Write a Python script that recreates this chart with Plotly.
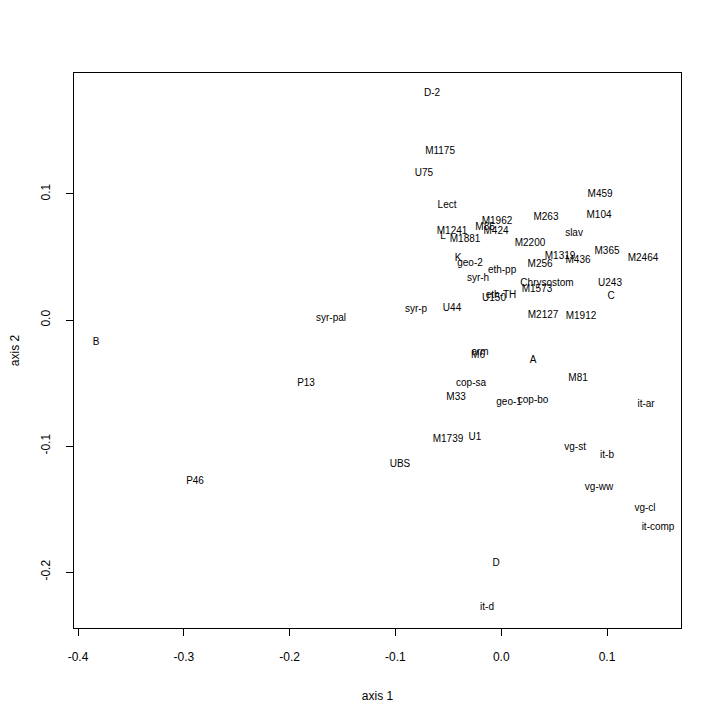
import plotly.graph_objects as go

labels = ["D-2", "M1175", "U75", "Lect", "M1962", "M85", "M424", "M1241", "L", "M1881",
          "M263", "M459", "M104", "slav", "M2200", "M1319", "M436", "M365", "M2464", "K",
          "geo-2", "M256", "eth-pp", "syr-h", "Chrysostom", "M1573", "U243", "C", "eth-TH", "U150",
          "syr-p", "U44", "M2127", "M1912", "syr-pal", "B", "P13", "M33", "M1739", "U1",
          "UBS", "P46", "arm", "M6", "A", "cop-sa", "M81", "geo-1", "cop-bo", "it-ar",
          "vg-st", "it-b", "vg-ww", "vg-cl", "it-comp", "D", "it-d"]
axis1 = [-0.0654, -0.0578, -0.0730, -0.0512, -0.0040, -0.0153, -0.0049, -0.0465, -0.0550, -0.0342,
         0.0423, 0.0934, 0.0924, 0.0688, 0.0272, 0.0556, 0.0726, 0.1000, 0.1340, -0.0408,
         -0.0295, 0.0367, 0.0008, -0.0219, 0.0433, 0.0338, 0.1028, 0.1038, -0.0002, -0.0068,
         -0.0805, -0.0465, 0.0395, 0.0754, -0.1609, -0.3830, -0.1845, -0.0427, -0.0503, -0.0248,
         -0.0957, -0.2894, -0.0200, -0.0219, 0.0301, -0.0285, 0.0726, 0.0074, 0.0301, 0.1369,
         0.0698, 0.1000, 0.0924, 0.1359, 0.1482, -0.0049, -0.0134]
axis2 = [0.1794, 0.1341, 0.1159, 0.0905, 0.0778, 0.0738, 0.0706, 0.0706, 0.0659, 0.0635,
         0.0817, 0.0992, 0.0833, 0.0683, 0.0611, 0.0500, 0.0476, 0.0540, 0.0492, 0.0492,
         0.0452, 0.0444, 0.0389, 0.0333, 0.0286, 0.0246, 0.0286, 0.0190, 0.0198, 0.0167,
         0.0087, 0.0095, 0.0032, 0.0024, 0.0008, -0.0175, -0.0500, -0.0611, -0.0952, -0.0929,
         -0.1143, -0.1278, -0.0254, -0.0278, -0.0325, -0.0500, -0.0468, -0.0651, -0.0635, -0.0667,
         -0.1008, -0.1079, -0.1333, -0.1492, -0.1643, -0.1929, -0.2278]

x_ticks = [-0.4, -0.3, -0.2, -0.1, 0.0, 0.1]
x_ticktext = ["-0.4", "-0.3", "-0.2", "-0.1", "0.0", "0.1"]
y_ticks = [-0.2, -0.1, 0.0, 0.1]
y_ticktext = ["-0.2", "-0.1", "0.0", "0.1"]

FONT = "Liberation Sans, Arial, sans-serif"

fig = go.Figure(go.Scatter(
    x=axis1, y=axis2, text=labels, mode="text",
    textposition="middle center",
    textfont=dict(family=FONT, size=10, color="black"),
    hoverinfo="text",
))

axis_common = dict(
    showgrid=False, zeroline=False, showline=True, linecolor="black", linewidth=1,
    mirror=True, ticks="outside", ticklen=7, tickcolor="black", tickwidth=1,
    tickfont=dict(family=FONT, size=12, color="black"),
)

fig.update_layout(
    width=720, height=720,
    margin=dict(l=66, r=47, t=65, b=100),
    plot_bgcolor="white", paper_bgcolor="white",
    showlegend=False,
    font=dict(family=FONT, color="black"),
    xaxis=dict(range=[-0.4038, 0.1699], tickvals=x_ticks, ticktext=x_ticktext,
               title=dict(text="axis 1", font=dict(family=FONT, size=12), standoff=28),
               automargin=False, ticklabelstandoff=11, **axis_common),
    yaxis=dict(range=[-0.2444, 0.196], tickvals=y_ticks, ticktext=y_ticktext, tickangle=-90,
               title=dict(text="axis 2", font=dict(family=FONT, size=12), standoff=20),
               automargin=False, ticklabelstandoff=11, **axis_common),
)

fig.write_html("out.html")
